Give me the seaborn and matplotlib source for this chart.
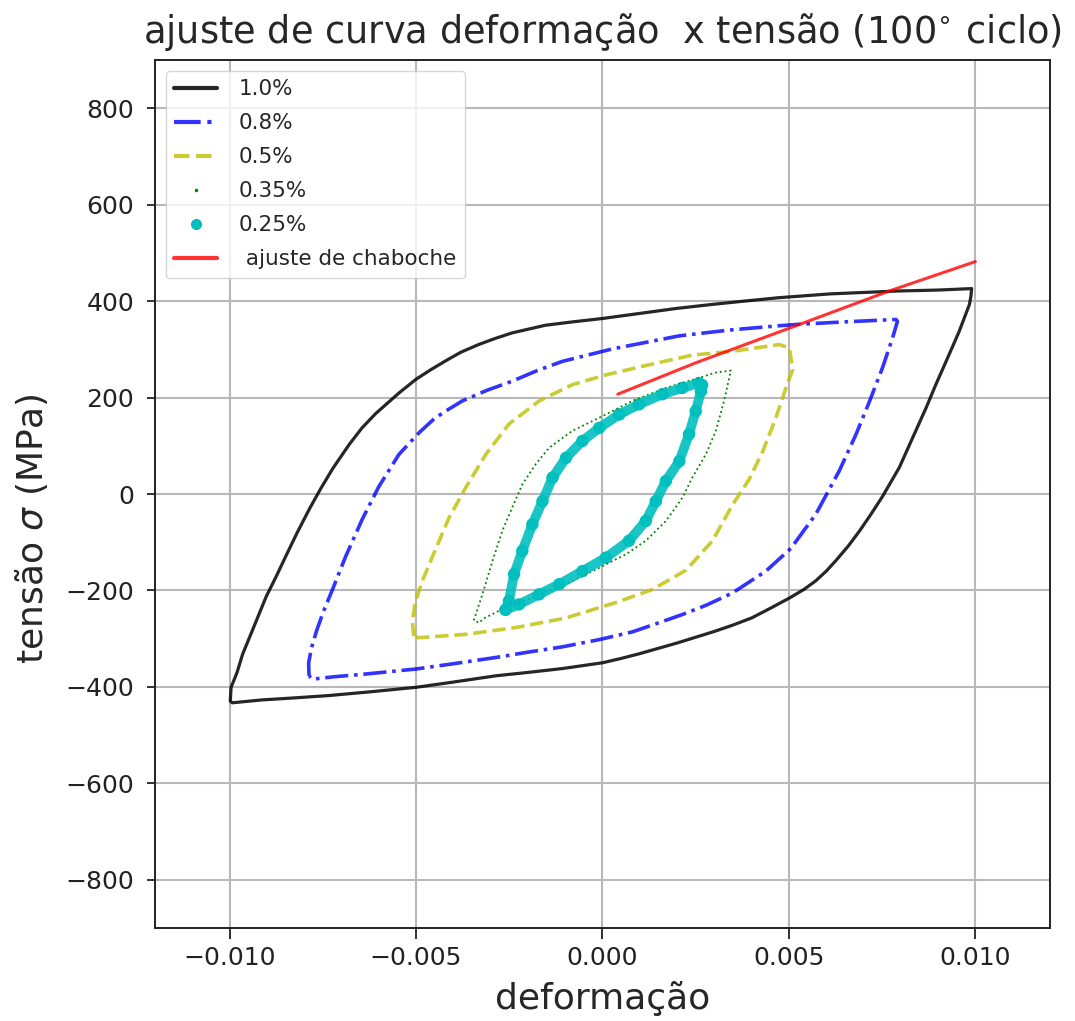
import numpy as np
import pandas as pd
import matplotlib
matplotlib.use("Agg")
import matplotlib.pyplot as plt
from matplotlib.lines import Line2D
import seaborn as sns

# Stabilised hysteresis loops (100th cycle): strain [-] vs stress [MPa]
def_10 = [-0.00998, -0.00996, -0.00980, -0.00965, -0.00940, -0.00902, -0.00875, -0.00848,
          -0.00818, -0.00786, -0.00755, -0.00724, -0.00679, -0.00645, -0.00608, -0.00545,
          -0.00500, -0.00460, -0.00421, -0.00380, -0.00332, -0.00290, -0.00243, -0.00153,
          -0.00080, 0.00000, 0.00114, 0.00200, 0.00292, 0.00380, 0.00471, 0.00610, 0.00792,
          0.00900, 0.00990, 0.00988, 0.00984, 0.00957, 0.00930, 0.00894, 0.00868, 0.00832,
          0.00796, 0.00751, 0.00720, 0.00689, 0.00660, 0.00626, 0.00600, 0.00572, 0.00540,
          0.00503, 0.00450, 0.00400, 0.00349, 0.00300, 0.00250, 0.00200, 0.00150, 0.00100,
          0.00050, 0.00000, -0.00108, -0.00200, -0.00286, -0.00400, -0.00501, -0.00620,
          -0.00734, -0.00830, -0.00913, -0.00993, -0.00998]
ten_10 = [-429, -401, -370, -332, -285, -213, -171, -127,
          -79, -31, 12, 52, 103, 137, 167, 210,
          238, 258, 276, 294, 310, 322, 334, 350,
          357, 364, 376, 385, 393, 400, 407, 415, 421,
          423, 426, 410, 393, 338, 290, 227, 179, 117,
          55, -5, -42, -77, -107, -138, -160, -180, -198,
          -215, -237, -257, -272, -285, -297, -309, -320, -331,
          -341, -350, -362, -370, -377, -390, -401, -410,
          -418, -423, -427, -433, -429]

def_08 = [-0.00787, -0.00788, -0.00780, -0.00766, -0.00748, -0.00725, -0.00689, -0.00644,
          -0.00600, -0.00546, -0.00492, -0.00450, -0.00412, -0.00376, -0.00310, -0.00242,
          -0.00175, -0.00108, 0.00027, 0.00206, 0.00340, 0.00474, 0.00527, 0.00650, 0.00787,
          0.00791, 0.00778, 0.00751, 0.00715, 0.00680, 0.00635, 0.00572, 0.00505, 0.00438,
          0.00349, 0.00280, 0.00214, 0.00140, 0.00080, -0.00009, -0.00108, -0.00200,
          -0.00286, -0.00400, -0.00501, -0.00644, -0.00720, -0.00778, -0.00787]
ten_08 = [-377, -350, -318, -282, -243, -200, -130, -52,
          15, 82, 127, 157, 176, 193, 215, 234,
          256, 275, 301, 328, 340, 349, 352, 357, 362,
          358, 324, 262, 190, 124, 48, -42, -113, -160,
          -205, -230, -250, -270, -286, -302, -317, -328,
          -339, -352, -363, -374, -379, -384, -377]

def_05 = [-0.00506, -0.00510, -0.00501, -0.00483, -0.00456, -0.00412, -0.00367, -0.00313,
          -0.00251, -0.00170, -0.00080, 0.00009, 0.00125, 0.00241, 0.00349, 0.00474,
          0.00501, 0.00510, 0.00492, 0.00465, 0.00429, 0.00393, 0.00349, 0.00295,
          0.00224, 0.00134, 0.00036, -0.00098, -0.00233, -0.00367, -0.00492, -0.00506]
ten_05 = [-295, -263, -222, -180, -130, -50, 13, 82,
          145, 193, 227, 247, 268, 288, 296, 310,
          303, 258, 220, 158, 87, 30, -22, -97,
          -158, -198, -225, -257, -277, -291, -298, -295]

def_035 = [-0.00345, -0.00322, -0.00295, -0.00269, -0.00242, -0.00215, -0.00179, -0.00143,
           -0.00081, -0.00009, 0.00080, 0.00170, 0.00259, 0.00304, 0.00344, 0.00340,
           0.00326, 0.00304, 0.00277, 0.00241, 0.00214, 0.00170, 0.00116, 0.00063,
           -0.00009, -0.00098, -0.00188, -0.00251, -0.00295, -0.00318, -0.00331, -0.00345]
ten_035 = [-262, -208, -139, -77, -28, 20, 62, 96,
           131, 158, 193, 220, 241, 252, 256, 241,
           193, 131, 82, 34, -8, -56, -97, -125,
           -153, -187, -215, -232, -249, -258, -267, -262]

def_025 = [-0.00260, -0.00251, -0.00237, -0.00215, -0.00188, -0.00161, -0.00134, -0.00098,
           -0.00054, -0.00009, 0.00045, 0.00098, 0.00161, 0.00214, 0.00259, 0.00267,
           0.00264, 0.00250, 0.00232, 0.00206, 0.00170, 0.00143, 0.00116, 0.00071,
           0.00009, -0.00054, -0.00116, -0.00170, -0.00224, -0.00260]
ten_025 = [-240, -222, -166, -118, -63, -15, 34, 75,
           110, 137, 165, 186, 207, 220, 230, 226,
           213, 172, 124, 68, 27, -15, -56, -97,
           -132, -160, -187, -208, -229, -240]

# Chaboche model fit on the 1.0 % loop
def_chab = [0.00041, 0.00250, 0.00505, 0.00769, 0.01000]
ten_chab = [207, 272, 345, 421, 482]

labels = ["1.0%", "0.8%", "0.5%", "0.35%", "0.25%", " ajuste de chaboche"]

sns.set_style("ticks")
plt.rcParams["font.family"] = ["DejaVu Sans"]

fig = plt.figure(figsize=(10.75, 10.21), dpi=100)
ax = fig.add_axes([0.1442, 0.0911, 0.8325, 0.8501])

def loop(x, y):
    return pd.DataFrame({"deformacao": x, "tensao": y})

kw = dict(x="deformacao", y="tensao", sort=False, estimator=None, ax=ax, legend=False)
sns.lineplot(data=loop(def_10, ten_10), color="k", alpha=0.85, lw=2.3, **kw)
sns.lineplot(data=loop(def_08, ten_08), color="b", alpha=0.8, lw=2.6, linestyle="-.", **kw)
sns.lineplot(data=loop(def_05, ten_05), color="y", alpha=0.8, lw=2.6, linestyle="--", **kw)
sns.lineplot(data=loop(def_035, ten_035), color="g", lw=1.3, linestyle=":", **kw)
sns.lineplot(data=loop(def_025, ten_025), color="c", lw=7.0, alpha=0.9, **kw)
sns.scatterplot(data=loop(def_025, ten_025), x="deformacao", y="tensao", color="c",
                s=80, edgecolor="none", ax=ax, legend=False)
sns.lineplot(data=loop(def_chab, ten_chab), color="r", alpha=0.8, lw=2.2, **kw)

ax.set_xlim(-0.012, 0.012)
ax.set_ylim(-900, 900)
ax.set_xticks([-0.010, -0.005, 0.0, 0.005, 0.010])
ax.set_yticks([-800, -600, -400, -200, 0, 200, 400, 600, 800])
ax.grid(True, color="#b8b8b8", lw=1.5)
ax.set_axisbelow(True)
for s in ax.spines.values():
    s.set_color("#222222")
    s.set_linewidth(1.4)
ax.tick_params(labelsize=18, width=1.3, colors="#222222")
ax.tick_params(axis="x", length=8, pad=5)
ax.tick_params(axis="y", length=6, pad=9)

ax.set_title("ajuste de curva deformação  x tensão (100$^{\\circ}$ ciclo)", fontsize=26.5, pad=12)
ax.set_xlabel("deformação", fontsize=26)
ax.set_ylabel("tensão $\\sigma$ (MPa)", fontsize=26)
ax.yaxis.set_label_coords(-0.117, 0.46)
ax.xaxis.set_label_coords(0.5, -0.061)

handles = [
    Line2D([], [], color="k", alpha=0.85, lw=3.0),
    Line2D([], [], color="b", alpha=0.8, lw=3.0, linestyle="-."),
    Line2D([], [], color="y", alpha=0.8, lw=3.0, linestyle="--"),
    Line2D([], [], color="g", marker=".", ms=3, linestyle="none"),
    Line2D([], [], color="c", marker="o", ms=7, linestyle="none"),
    Line2D([], [], color="r", alpha=0.8, lw=3.0),
]
ax.legend(handles, labels, loc="upper left", fontsize=15.5, frameon=True,
          edgecolor="#cccccc", framealpha=0.8, labelspacing=0.65, handletextpad=1.0)

fig.savefig("out.png", dpi=100)
